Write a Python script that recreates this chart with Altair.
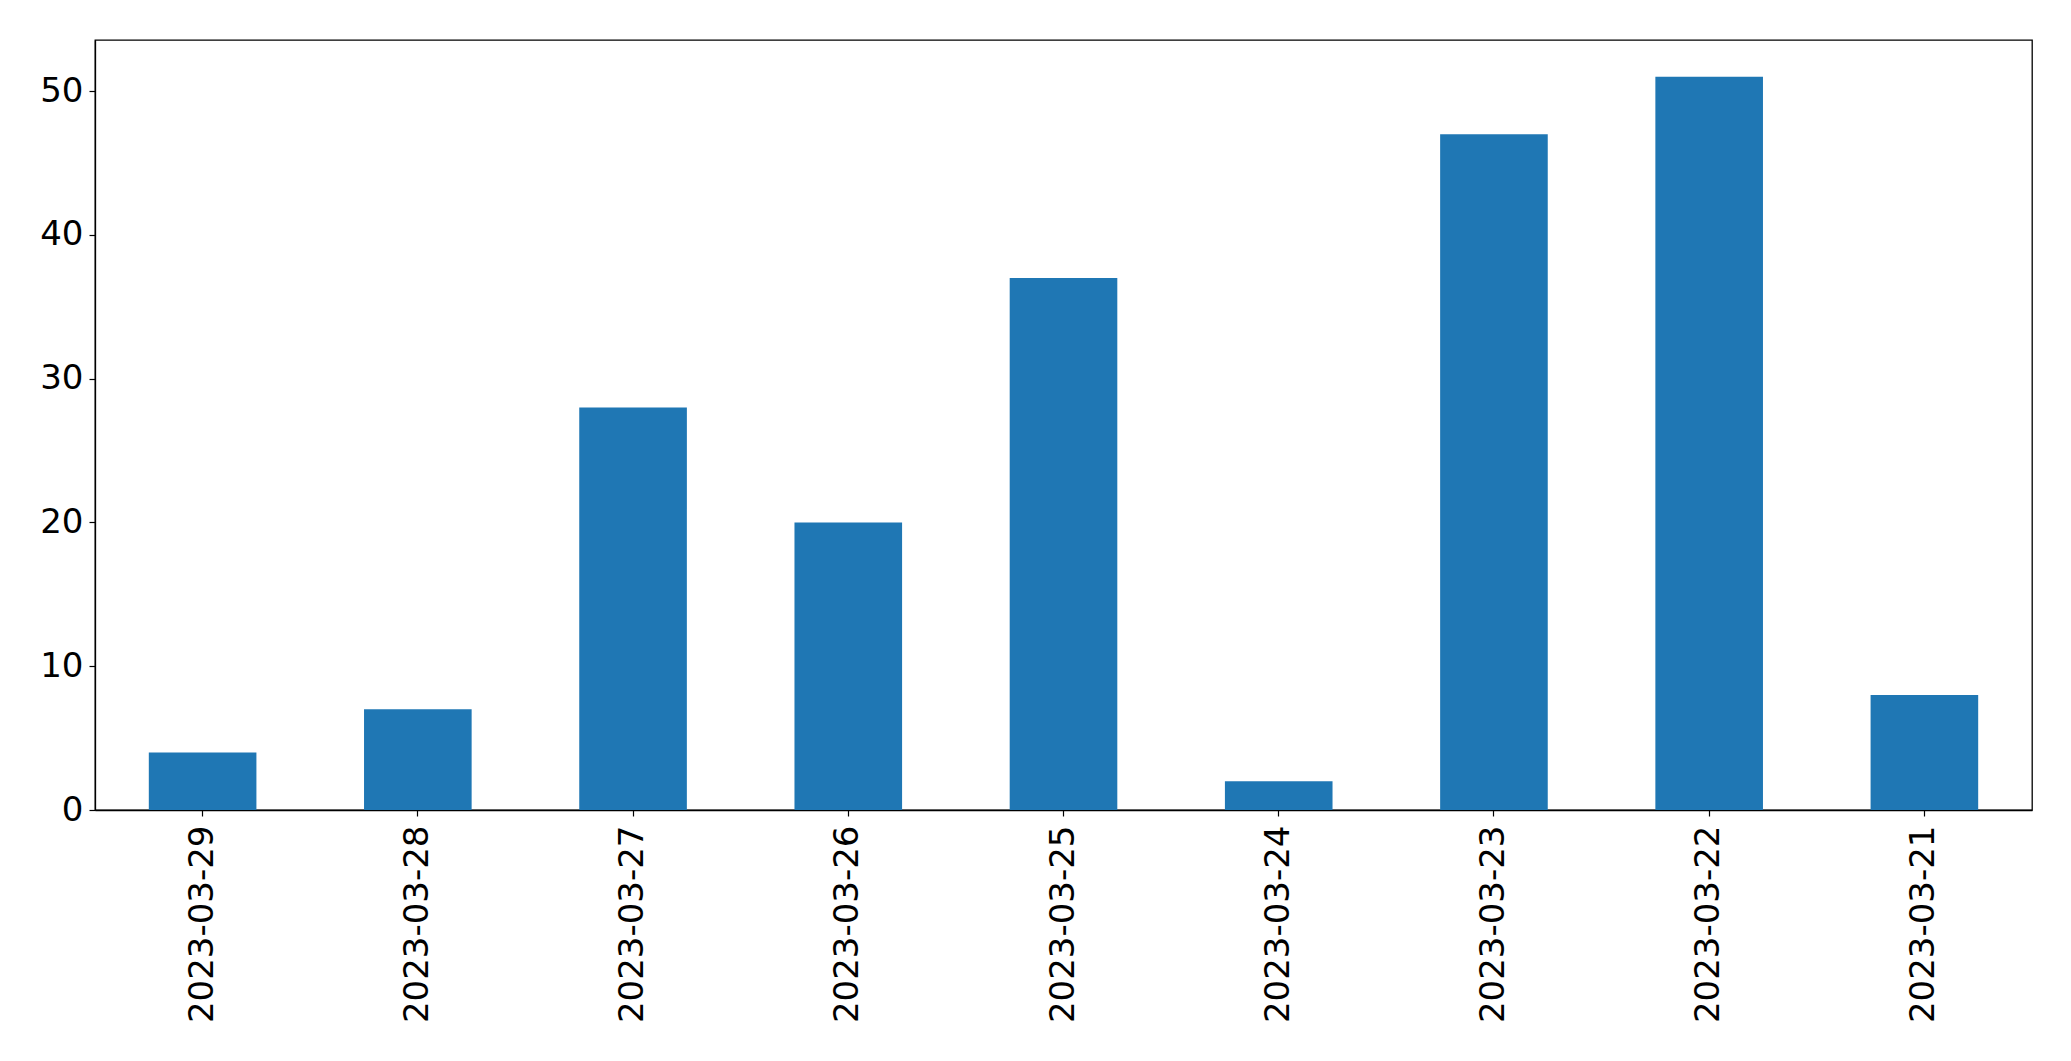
import altair as alt
import pandas as pd

dates = ["2023-03-29", "2023-03-28", "2023-03-27", "2023-03-26", "2023-03-25",
         "2023-03-24", "2023-03-23", "2023-03-22", "2023-03-21"]
counts = [4, 7, 28, 20, 37, 2, 47, 51, 8]
y_ticks = [0, 10, 20, 30, 40, 50]

df = pd.DataFrame({"date": dates, "count": counts})

chart = alt.Chart(df).mark_bar(color="#1f77b4").encode(
    x=alt.X("date:N", sort=dates,
            scale=alt.Scale(paddingInner=0.5, paddingOuter=0.25),
            axis=alt.Axis(title=None, labelAngle=-90, labelFont="DejaVu Sans",
                          labelFontSize=34, labelColor="black", tickColor="black",
                          domainColor="black", tickSize=6, labelPadding=9,
                          tickWidth=1.2, domainWidth=1.3, labelBaseline="middle",
                          labelAlign="right", labelLimit=0)),
    y=alt.Y("count:Q", scale=alt.Scale(domain=[0, 53.55], nice=False, zero=True),
            axis=alt.Axis(title=None, values=y_ticks, grid=False, labelFont="DejaVu Sans",
                          labelFontSize=34, labelColor="black", tickColor="black",
                          domainColor="black", tickSize=6, labelPadding=6,
                          tickWidth=1.2, domainWidth=1.3)),
).properties(
    width=1937, height=770,
    autosize=alt.AutoSizeParams(type="none"),
    padding={"left": 87, "top": 32, "right": 30, "bottom": 250},
).configure_view(stroke="black", strokeWidth=1.3)

chart.save("out.html", embed_options={"renderer": "svg", "actions": False})
